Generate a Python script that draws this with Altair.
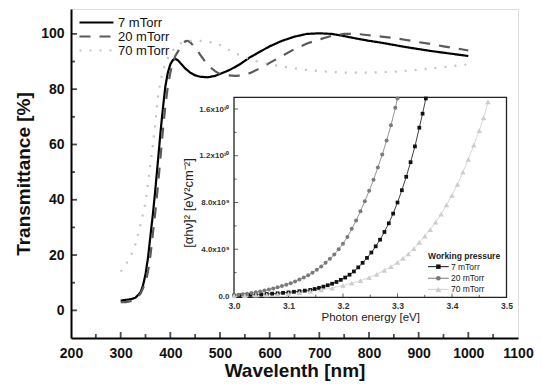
import altair as alt
import pandas as pd

F = "Liberation Sans"
SERIES = ["7 mTorr", "20 mTorr", "70 mTorr"]

# ---------------- main panel: transmittance vs wavelength ----------------
wl_7 = [300, 310, 320, 330, 340, 345, 350, 355, 360, 365, 370, 375, 380, 385, 390, 395, 400, 405, 410, 415,
        420, 430, 440, 450, 460, 475, 490, 500, 520, 540, 560, 580, 600, 625, 650, 675, 700, 725, 750, 775,
        800, 825, 850, 875, 900, 925, 950, 975, 1000]
tr_7 = [3.5, 3.8, 4.0, 4.6, 6.5, 9, 13, 19, 27, 35, 44, 54, 64, 73, 81, 86, 89, 90.5, 91, 90.5,
        89.5, 87.5, 86, 85, 84.5, 84.3, 84.8, 85.5, 87, 89, 91.5, 93.5, 95.5, 97.5, 99, 100, 100.2, 100, 99.2, 98.3,
        97.5, 96.8, 96, 95.2, 94.5, 93.8, 93.2, 92.6, 92]

wl_20 = [300, 310, 320, 330, 340, 350, 355, 360, 365, 370, 375, 380, 385, 390, 395, 400, 405, 410, 420, 430,
         435, 440, 450, 460, 470, 480, 490, 500, 515, 530, 545, 560, 580, 600, 625, 650, 675, 700, 725, 750,
         775, 800, 825, 850, 875, 900, 925, 950, 975, 1000]
tr_20 = [3, 3, 3.3, 4, 6, 10, 14, 20, 28, 36, 45, 55, 65, 74, 81, 86, 89.5, 92, 95, 97.3,
         97.5, 97, 95, 92.5, 90, 88, 86.5, 85.5, 85, 84.8, 85, 85.8, 87.5, 89.5, 92, 94.5, 96.5, 98, 99.3, 100,
         100, 99.5, 99, 98.5, 97.8, 97, 96.3, 95.5, 94.8, 94]

wl_70 = [300, 310, 320, 330, 340, 350, 360, 365, 370, 375, 380, 390, 400, 410, 420, 440, 460, 480, 500, 525,
         550, 575, 600, 650, 700, 750, 800, 850, 900, 950, 1000]
tr_70 = [14, 16.5, 19.5, 24, 31, 39, 53, 60, 68, 77, 83, 89.5, 93, 95, 96.5, 97.5, 97.5, 97, 96, 93.5,
         91.5, 90, 89, 87.5, 86.5, 86, 86, 86.3, 87, 88, 89]

x_tick_labels = [200, 300, 400, 500, 600, 700, 800, 900, 1000, 1100]
y_tick_labels = [0, 20, 40, 60, 80, 100]

# ---------------- inset: (alpha h nu)^2 vs photon energy (units of 1e10) ----------------
e_7 = [3.000, 3.010, 3.020, 3.030, 3.040, 3.050, 3.060, 3.070, 3.080, 3.090, 3.100, 3.110, 3.120, 3.130,
       3.140, 3.148, 3.156, 3.164, 3.172, 3.180, 3.188, 3.196, 3.204, 3.212, 3.220, 3.228, 3.236, 3.244,
       3.252, 3.260, 3.268, 3.276, 3.284, 3.292, 3.300, 3.308, 3.316, 3.324, 3.332, 3.340, 3.346, 3.352]
a_7 = [0.004, 0.006, 0.008, 0.010, 0.012, 0.014, 0.017, 0.020, 0.023, 0.027, 0.031, 0.036, 0.041, 0.046,
       0.052, 0.060, 0.069, 0.080, 0.092, 0.105, 0.120, 0.138, 0.158, 0.182, 0.210, 0.245, 0.284, 0.326,
       0.372, 0.425, 0.482, 0.548, 0.622, 0.705, 0.800, 0.905, 1.020, 1.145, 1.280, 1.440, 1.560, 1.690]

e_20 = [3.000, 3.008, 3.016, 3.024, 3.032, 3.040, 3.048, 3.056, 3.064, 3.072, 3.080, 3.088, 3.096, 3.104,
        3.112, 3.120, 3.128, 3.136, 3.144, 3.152, 3.160, 3.168, 3.176, 3.184, 3.192, 3.200, 3.208, 3.216,
        3.224, 3.232, 3.240, 3.248, 3.256, 3.264, 3.272, 3.280, 3.288, 3.296, 3.300]
a_20 = [0.005, 0.010, 0.015, 0.020, 0.026, 0.032, 0.039, 0.047, 0.055, 0.064, 0.074, 0.085, 0.097, 0.110,
        0.125, 0.141, 0.158, 0.178, 0.200, 0.225, 0.253, 0.284, 0.318, 0.356, 0.400, 0.448, 0.505, 0.575,
        0.645, 0.725, 0.810, 0.900, 0.995, 1.100, 1.210, 1.330, 1.460, 1.610, 1.690]

e_70 = [3.000, 3.020, 3.040, 3.060, 3.080, 3.100, 3.120, 3.140, 3.160, 3.180, 3.200, 3.216, 3.232, 3.248,
        3.262, 3.276, 3.288, 3.300, 3.310, 3.320, 3.330, 3.340, 3.350, 3.360, 3.370, 3.380, 3.390, 3.400,
        3.410, 3.420, 3.430, 3.440, 3.450, 3.458, 3.466]
a_70 = [0.002, 0.004, 0.007, 0.010, 0.014, 0.020, 0.028, 0.040, 0.052, 0.068, 0.090, 0.110, 0.132, 0.158,
        0.186, 0.220, 0.252, 0.288, 0.322, 0.360, 0.405, 0.458, 0.512, 0.568, 0.632, 0.700, 0.780, 0.862,
        0.955, 1.060, 1.170, 1.290, 1.415, 1.525, 1.660]

inset_x_ticks = [3.0, 3.1, 3.2, 3.3, 3.4, 3.5]
inset_y_ticks = [0.0, 0.4, 0.8, 1.2, 1.6]  # x 1e10
UNIT = 1e10

# ---------------- layout / style ----------------
W, H = 447, 329
X_DOM = [200, 1100]
Y_DOM = [-10, 109]
IX_DOM = [3.0, 3.5]
IX_RANGE = [163, 435.5]
IY_DOM = [0, 1.6 * UNIT]
IY_RANGE = [287, 100]
IY_BOT, IY_TOP = -0.012 * UNIT, 1.7 * UNIT

MAIN_COLORS = ["#000000", "#5a5a5a", "#c4c4c4"]
MAIN_DASH = [[1, 0], [11, 9], [2, 8]]
INSET_COLORS = ["#111111", "#7a7a7a", "#cdcdcd"]
INSET_SHAPES = ["square", "circle", "triangle-up"]
INSET_SIZES = [14, 16, 30]

main_df = pd.concat([
    pd.DataFrame({"wl": wl_7, "T": tr_7, "series": SERIES[0]}),
    pd.DataFrame({"wl": wl_20, "T": tr_20, "series": SERIES[1]}),
    pd.DataFrame({"wl": wl_70, "T": tr_70, "series": SERIES[2]}),
], ignore_index=True)

inset_df = pd.concat([
    pd.DataFrame({"E": e_7, "A": [v * UNIT for v in a_7], "series": SERIES[0]}),
    pd.DataFrame({"E": e_20, "A": [v * UNIT for v in a_20], "series": SERIES[1]}),
    pd.DataFrame({"E": e_70, "A": [v * UNIT for v in a_70], "series": SERIES[2]}),
], ignore_index=True)

main_x = alt.X("wl:Q", scale=alt.Scale(domain=X_DOM, nice=False, zero=False),
               axis=alt.Axis(values=x_tick_labels, format="d", title="Wavelenth [nm]", domain=True,
                             domainColor="black", domainWidth=2, ticks=False, grid=False,
                             labelPadding=8, titlePadding=1, labelFontSize=14, labelFontWeight="bold",
                             titleFontSize=19, titleFontWeight="bold", labelFont=F, titleFont=F,
                             labelColor="#111", titleColor="#111", labelFlush=False))
main_y = alt.Y("T:Q", scale=alt.Scale(domain=Y_DOM, nice=False, zero=False),
               axis=alt.Axis(values=y_tick_labels, format="d", title="Transmittance [%]", domain=True,
                             domainColor="black", domainWidth=2, ticks=False, grid=False,
                             labelPadding=7, titlePadding=7, labelFontSize=14, labelFontWeight="bold",
                             titleFontSize=19, titleFontWeight="bold", labelFont=F, titleFont=F,
                             labelColor="#111", titleColor="#111", labelFlush=False))

main_legend = alt.Legend(title=None, orient="none", legendX=19, legendY=7, symbolType="M-3.4,0H3.4",
                         symbolSize=100, symbolStrokeWidth=2.2, labelFont=F, labelFontSize=13,
                         labelColor="#111", labelOffset=15, padding=0, rowPadding=0)

lines = alt.Chart(main_df).mark_line(strokeWidth=2.2).encode(
    x=main_x, y=main_y,
    color=alt.Color("series:N", scale=alt.Scale(domain=SERIES, range=MAIN_COLORS), legend=main_legend),
    strokeDash=alt.StrokeDash("series:N", scale=alt.Scale(domain=SERIES, range=MAIN_DASH), legend=main_legend),
)

x_major = [v for v in x_tick_labels if X_DOM[0] < v < X_DOM[1]]
x_minor = [v + 50 for v in x_tick_labels[:-1]]
y_major = list(y_tick_labels)
y_minor = [v + 10 for v in y_tick_labels[:-1]]

xt_major = alt.Chart(pd.DataFrame({"wl": x_major})).mark_tick(
    orient="vertical", size=6, thickness=1.8, color="black", yOffset=-3).encode(x=main_x, y=alt.datum(Y_DOM[0]))
xt_minor = alt.Chart(pd.DataFrame({"wl": x_minor})).mark_tick(
    orient="vertical", size=4, thickness=1.8, color="black", yOffset=-2).encode(x=main_x, y=alt.datum(Y_DOM[0]))
yt_major = alt.Chart(pd.DataFrame({"T": y_major})).mark_tick(
    orient="horizontal", size=6, thickness=1.8, color="black", xOffset=3).encode(y=main_y, x=alt.datum(X_DOM[0]))
yt_minor = alt.Chart(pd.DataFrame({"T": y_minor})).mark_tick(
    orient="horizontal", size=4, thickness=1.8, color="black", xOffset=2).encode(y=main_y, x=alt.datum(X_DOM[0]))

main = alt.layer(lines, xt_major, xt_minor, yt_major, yt_minor)

# ---------------- inset ----------------
inset_label_expr = ("datum.value == 0 ? '0.0' : (datum.value < 1e10 ? format(datum.value/1e9, '.1f') + 'x10\u2079'"
                    " : format(datum.value/1e10, '.1f') + 'x10\u00b9\u2070')")
ix = alt.X("E:Q", scale=alt.Scale(domain=IX_DOM, range=IX_RANGE, nice=False, zero=False),
           axis=alt.Axis(orient="bottom", offset=IY_RANGE[0] + 1.4 - H, values=inset_x_ticks, format=".1f",
                         domain=False, ticks=False, grid=False, labelFont=F, labelFontSize=8.5,
                         labelFontWeight="bold", labelColor="#333", labelPadding=4,
                         title="Photon energy [eV]", titleFont=F, titleFontSize=11.5, titleFontWeight="normal",
                         titleColor="#222", titlePadding=2, labelFlush=False))
iy = alt.Y("A:Q", scale=alt.Scale(domain=IY_DOM, range=IY_RANGE, nice=False, zero=False),
           axis=alt.Axis(orient="left", offset=-IX_RANGE[0], values=[v * UNIT for v in inset_y_ticks],
                         labelExpr=inset_label_expr, domain=False, ticks=False, grid=False, labelFont=F,
                         labelFontSize=8, labelFontWeight="bold", labelColor="#333", labelPadding=5,
                         title="[\u03b1h\u03bd]\u00b2 [eV\u00b2cm\u207b\u00b2]", titleFont=F, titleFontSize=13,
                         titleFontWeight="normal", titleColor="#222", titlePadding=3, labelFlush=False))

frame = alt.Chart(pd.DataFrame({"E": [IX_DOM[0]], "E2": [IX_DOM[1]], "A": [IY_BOT], "A2": [IY_TOP]})).mark_rect(
    fill="white", stroke="#222", strokeWidth=1.3).encode(x=ix, x2="E2", y=iy, y2="A2")

ix_major = [v for v in inset_x_ticks if IX_DOM[0] < v < IX_DOM[1]]
ix_minor = [round(v + 0.05, 2) for v in inset_x_ticks[:-1]]
iy_major = [v * UNIT for v in inset_y_ticks if v > 0]
iy_minor = [(v + 0.2) * UNIT for v in inset_y_ticks[:-1]]

it1 = alt.Chart(pd.DataFrame({"E": ix_major})).mark_tick(
    orient="vertical", size=4, thickness=1, color="#222", yOffset=-2).encode(x=ix, y=alt.datum(IY_BOT))
it2 = alt.Chart(pd.DataFrame({"E": ix_minor})).mark_tick(
    orient="vertical", size=2.6, thickness=1, color="#222", yOffset=-1.3).encode(x=ix, y=alt.datum(IY_BOT))
it3 = alt.Chart(pd.DataFrame({"A": iy_major})).mark_tick(
    orient="horizontal", size=4, thickness=1, color="#222", xOffset=2).encode(y=iy, x=alt.datum(IX_DOM[0]))
it4 = alt.Chart(pd.DataFrame({"A": iy_minor})).mark_tick(
    orient="horizontal", size=2.6, thickness=1, color="#222", xOffset=1.3).encode(y=iy, x=alt.datum(IX_DOM[0]))

inset_color = alt.Color("series:N", scale=alt.Scale(domain=SERIES, range=INSET_COLORS), legend=None)
ilines = alt.Chart(inset_df).mark_line(strokeWidth=0.8).encode(x=ix, y=iy, color=inset_color)
ipoints = [
    alt.Chart(inset_df).transform_filter(alt.datum.series == s).mark_point(
        shape=INSET_SHAPES[i], filled=True, size=INSET_SIZES[i], color=INSET_COLORS[i], opacity=1).encode(x=ix, y=iy)
    for i, s in enumerate(SERIES)
]

# inset legend ("Working pressure")
LEG_E0, LEG_E1, LEG_EM, LEG_EL = 3.356, 3.394, 3.375, 3.398
LEG_ROWS = [0.251 * UNIT, 0.152 * UNIT, 0.057 * UNIT]
LEG_TITLE_A = 0.345 * UNIT
leg_df = pd.DataFrame({"series": SERIES, "E": [LEG_E0] * 3, "E2": [LEG_E1] * 3, "A": LEG_ROWS})
leg_rules = alt.Chart(leg_df).mark_rule(strokeWidth=1).encode(x=ix, x2="E2", y=iy, color=inset_color)
leg_pts = [
    alt.Chart(pd.DataFrame({"E": [LEG_EM], "A": [LEG_ROWS[i]]})).mark_point(
        shape=INSET_SHAPES[i], filled=True, size=INSET_SIZES[i] + 6, color=INSET_COLORS[i], opacity=1).encode(x=ix, y=iy)
    for i in range(3)
]
leg_txt = alt.Chart(pd.DataFrame({"E": [LEG_EL] * 3, "A": LEG_ROWS, "label": SERIES})).mark_text(
    align="left", baseline="middle", font=F, fontSize=8.5, color="#222").encode(x=ix, y=iy, text="label:N")
leg_title = alt.Chart(pd.DataFrame({"E": [LEG_E0], "A": [LEG_TITLE_A], "label": ["Working pressure"]})).mark_text(
    align="left", baseline="middle", font=F, fontSize=8.5, fontWeight="bold", color="#222").encode(
    x=ix, y=iy, text="label:N")

inset = alt.layer(frame, it1, it2, it3, it4, ilines, *ipoints, leg_rules, *leg_pts, leg_txt, leg_title)

chart = alt.layer(main, inset).resolve_scale(
    x="independent", y="independent", color="independent", strokeDash="independent"
).properties(
    width=W, height=H,
    padding={"left": 63, "top": 1, "right": 16, "bottom": 43},
    autosize=alt.AutoSizeParams(type="none"),
).configure_view(stroke="black", strokeWidth=2).configure(background="white")

chart.save("out.html", embed_options={"renderer": "svg", "actions": False})
